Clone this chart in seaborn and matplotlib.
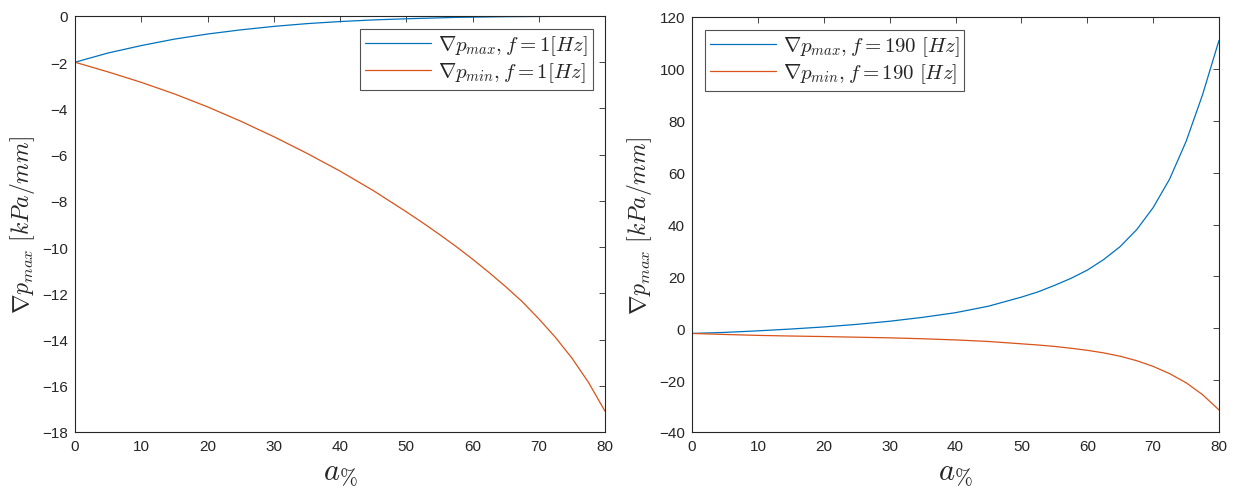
import numpy as np
import pandas as pd
import matplotlib
matplotlib.use("Agg")
import matplotlib.pyplot as plt
import seaborn as sns

# ---- data ----
a_pct = [0, 5, 10, 15, 20, 25, 30, 35, 40, 45, 50,
         52.5, 55, 57.5, 60, 62.5, 65, 67.5, 70, 72.5, 75, 77.5, 80]

# left panel, f = 1 Hz
dp_max_1 = [-2.0, -1.6, -1.28, -1.0, -0.78, -0.6, -0.45, -0.33, -0.24, -0.17, -0.12,
            -0.1, -0.08, -0.06, -0.05, -0.04, -0.03, -0.025, -0.02, -0.015, -0.01, -0.005, 0.0]
dp_min_1 = [-2.0, -2.42, -2.87, -3.37, -3.93, -4.55, -5.22, -5.94, -6.71, -7.55, -8.47,
            -8.95, -9.45, -9.97, -10.52, -11.1, -11.71, -12.36, -13.1, -13.9, -14.8, -15.85, -17.1]

# right panel, f = 190 Hz
dp_max_190 = [-2.0, -1.6, -1.0, -0.3, 0.5, 1.5, 2.7, 4.2, 6.0, 8.5, 12.0,
              14.0, 16.5, 19.2, 22.4, 26.5, 31.5, 38.0, 46.5, 57.5, 72.0, 90.0, 111.0]
dp_min_190 = [-2.0, -2.4, -2.75, -3.0, -3.2, -3.45, -3.7, -4.05, -4.5, -5.1, -6.0,
              -6.45, -7.0, -7.7, -8.5, -9.5, -10.8, -12.5, -14.7, -17.5, -21.0, -25.6, -31.5]

xticks = [0, 10, 20, 30, 40, 50, 60, 70, 80]
yticks_left = [0, -2, -4, -6, -8, -10, -12, -14, -16, -18]
yticks_right = [120, 100, 80, 60, 40, 20, 0, -20, -40]

leg_left = [r'$\nabla p_{max}, f=1 [Hz]$', r'$\nabla p_{min}, f=1 [Hz]$']
leg_right = [r'$\nabla p_{max}, f=190\ [Hz]$', r'$\nabla p_{min}, f=190\ [Hz]$']
ylabel = r'$\nabla p_{max}\ [kPa/mm]$'
xlabel = r'$a_{\%}$'

# ---- style ----
sns.set_theme(style="white")
plt.rcParams['font.family'] = ['Liberation Sans', 'DejaVu Sans']
plt.rcParams['mathtext.fontset'] = 'cm'
plt.rcParams['axes.edgecolor'] = '#262626'
plt.rcParams['axes.linewidth'] = 0.8

BLUE = '#0072BD'
ORANGE = '#D95319'

fig = plt.figure(figsize=(12.33, 4.89), dpi=100)
ax1 = fig.add_axes([75/1233, 1-433/489, (605-75)/1233, (433-17)/489])
ax2 = fig.add_axes([692/1233, 1-433/489, (1219-692)/1233, (433-18)/489])


def panel(ax, ymax, ymin, labels, yticks, legloc):
    df = pd.DataFrame({
        'a': a_pct * 2,
        'v': ymax + ymin,
        's': [labels[0]] * len(a_pct) + [labels[1]] * len(a_pct),
    })
    sns.lineplot(data=df, x='a', y='v', hue='s', palette=[BLUE, ORANGE],
                 linewidth=0.9, ax=ax, legend=True)
    ax.set_xlim(0, 80)
    ax.set_ylim(min(yticks), max(yticks))
    ax.set_xticks(xticks)
    ax.set_yticks(yticks)
    ax.tick_params(direction='in', top=True, right=True, length=4,
                   width=0.6, colors='#262626', labelsize=11, pad=5)
    for sp in ax.spines.values():
        sp.set_visible(True)
        sp.set_color('#262626')
        sp.set_linewidth(0.8)
    ax.set_xlabel(xlabel, fontsize=22, labelpad=3)
    ax.set_ylabel(ylabel, fontsize=17, labelpad=4)
    leg = ax.legend(loc=legloc, fontsize=15, frameon=True, fancybox=False,
                    handlelength=3.2, handletextpad=0.3, borderpad=0.25,
                    labelspacing=0.15, borderaxespad=0.6)
    leg.get_frame().set_edgecolor('#262626')
    leg.get_frame().set_linewidth(0.8)


panel(ax1, dp_max_1, dp_min_1, leg_left, yticks_left, 'upper right')
panel(ax2, dp_max_190, dp_min_190, leg_right, yticks_right, 'upper left')

fig.savefig('out.png', dpi=100)
